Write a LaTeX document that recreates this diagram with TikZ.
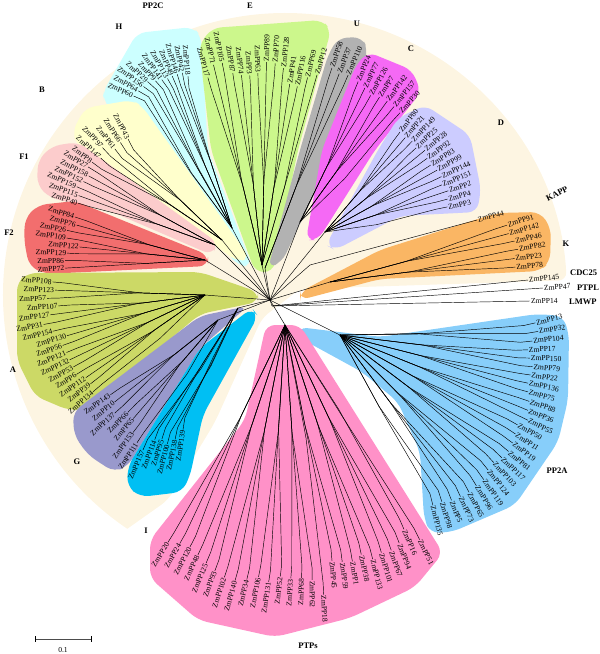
\documentclass[tikz,border=0pt]{standalone}
\usepackage{fontspec}
\setmainfont{Liberation Serif}
\usetikzlibrary{calc}
\definecolor{ppcream}{RGB}{253,245,226}
\definecolor{cladeH}{RGB}{204,255,255}
\definecolor{cladeE}{RGB}{204,247,140}
\definecolor{cladeU}{RGB}{178,178,178}
\definecolor{cladeC}{RGB}{245,105,245}
\definecolor{cladeD}{RGB}{204,204,255}
\definecolor{cladeK}{RGB}{250,182,100}
\definecolor{cladeB}{RGB}{255,255,204}
\definecolor{cladeFa}{RGB}{252,204,204}
\definecolor{cladeFb}{RGB}{242,110,110}
\definecolor{cladeA}{RGB}{204,217,102}
\definecolor{cladeG}{RGB}{153,153,204}
\definecolor{cladeI}{RGB}{0,191,243}
\definecolor{cladePTP}{RGB}{255,145,200}
\definecolor{cladePPA}{RGB}{135,206,250}

\tikzset{
  branch/.style={line width=0.45pt, black},
  leaflbl/.style={font=\fontsize{7.6}{8}\selectfont, inner sep=0.8pt},
  cladelbl/.style={font=\fontsize{8.5}{9}\selectfont\bfseries, inner sep=0pt},
  cladebg/.style={rounded corners=9pt},
}

% one leaf: start, focus (label direction), tip, name
\newcommand{\leaf}[4]{%
  \coordinate (tip) at (#3);
  \coordinate (pre) at ($(tip)!12pt!(#2)$);
  \draw[branch] (#1) -- (pre) -- (tip);
  \pgfmathanglebetweenpoints{\pgfpointanchor{#2}{center}}{\pgfpointanchor{tip}{center}}%
  \let\leafang\pgfmathresult
  \pgfmathtruncatemacro\leafflip{and(\leafang>90,\leafang<270)}%
  \ifnum\leafflip=1
    \node[leaflbl, anchor=east, rotate=\leafang-180] (n#4) at (tip) {#4};
  \else
    \node[leaflbl, anchor=west, rotate=\leafang] (n#4) at (tip) {#4};
  \fi}

% a fan of leaves in groups of three: hub, focus, first angle, step, list name/radius
\newcommand{\cladefan}[5]{%
  \foreach \n/\r [count=\i from 0] in {#5} {%
    \pgfmathsetmacro\a{#3+\i*#4}%
    \pgfmathsetmacro\ga{#3+(3*floor(\i/3)+1)*#4}%
    \coordinate (gtip) at ($(#2)+(\ga:\r)$);
    \coordinate (sub) at ($(#1)!0.42!(gtip)$);
    \draw[branch] (#1) -- (sub);
    \leaf{sub}{#2}{$(#2)+(\a:\r)$}{\n}}}

\begin{document}
\begin{tikzpicture}[x=1pt,y=-1pt]
\useasboundingbox (0,0) rectangle (600,654);

%% -- background of PP2C ----------------------------------------------
\fill[ppcream] (285,295) ++(-3:282) arc[start angle=-3, end angle=-236, radius=282]
  [rounded corners=8pt] -- (168,500) -- (215,422) -- (262,318) -- (300,289) -- cycle;

%% -- clade areas --------------------------------------------------------
\fill[cladeH, cladebg] (103,92) -- (137,33) -- (193,27) -- (201,36) -- (208,150) -- (252,266) -- (238,266) -- (160,168) -- (103,100) -- cycle;
\fill[cladeE, cladebg] (199,45) -- (212,28) -- (322,20) -- (331,30) -- (298,150) -- (273,272) -- (255,272) -- (211,150) -- cycle;
\fill[cladeU, cladebg] (328,55) -- (338,38) -- (362,37) -- (368,50) -- (340,140) -- (282,262) -- (268,268) -- (300,150) -- cycle;
\fill[cladeC, cladebg] (356,65) -- (368,52) -- (412,70) -- (421,92) -- (375,150) -- (318,240) -- (306,240) -- (322,150) -- cycle;
\fill[cladeD, cladebg] (398,118) -- (425,105) -- (470,135) -- (481,190) -- (477,212) -- (400,216) -- (335,250) -- (326,245) -- (378,150) -- cycle;
\fill[cladeK, cladebg] (300,292) -- (380,250) -- (497,213) -- (540,212) -- (551,228) -- (550,262) -- (540,271) -- (380,279) -- (300,300) -- cycle;
\fill[cladeB, cladebg] (72,132) -- (85,108) -- (132,100) -- (142,106) -- (250,258) -- (238,262) -- (78,146) -- cycle;
\fill[cladeFa, cladebg] (38,160) -- (52,146) -- (78,142) -- (218,243) -- (212,255) -- (110,211) -- (50,198) -- (37,185) -- cycle;
\fill[cladeFb, cladebg] (25,218) -- (38,205) -- (75,201) -- (208,255) -- (208,266) -- (45,274) -- (29,266) -- (24,240) -- cycle;
\fill[cladeA, cladebg] (17,282) -- (28,273) -- (200,272) -- (258,292) -- (258,302) -- (200,314) -- (86,410) -- (68,410) -- (35,396) -- (17,360) -- cycle;
\fill[cladeG, cladebg] (73,412) -- (200,316) -- (248,306) -- (200,348) -- (128,466) -- (114,472) -- (88,455) -- (74,435) -- cycle;
\fill[cladeI, cladebg] (252,308) -- (200,348) -- (128,466) -- (127,486) -- (140,497) -- (182,492) -- (190,476) -- (203,415) -- (258,316) -- cycle;
\fill[cladePPA, cladebg] (298,327) -- (380,337) -- (537,314) -- (563,316) -- (569,334) -- (568,400) -- (558,442) -- (515,505) -- (452,532) -- (430,533) -- (424,518) -- (420,452) -- (398,402) -- (362,372) -- (298,337) -- cycle;
\fill[cladePTP, cladebg] (266,325) -- (245,420) -- (150,540) -- (150,578) -- (198,620) -- (275,637) -- (350,618) -- (415,587) -- (443,553) -- (347,400) -- (300,325) -- cycle;

%% -- hubs ---------------------------------------------------------------
\coordinate (root) at (270,300);
\coordinate (hH) at (232,228);  \coordinate (fH) at (192,122);
\coordinate (hE) at (262,265);
\coordinate (hB) at (222,240);  \coordinate (fB) at (170,220);
\coordinate (hFa) at (215,245);
\coordinate (hFb) at (205,260);
\coordinate (hA) at (205,295);
\coordinate (hG) at (218,320);
\coordinate (hI) at (238,308);  \coordinate (fI) at (200,320);
\coordinate (hU) at (265,268);
\coordinate (hC) at (300,222);
\coordinate (hD) at (325,232);
\coordinate (hK) at (330,282);
\coordinate (h44) at (310,265);
\coordinate (hS) at (272,306);
\coordinate (hPPA) at (340,335); \coordinate (fPPA) at (395,355);
\coordinate (hPTP) at (285,325); \coordinate (fPTP) at (310,315);

\foreach \h in {hH,hE,hB,hFa,hFb,hA,hG,hI,hU,hC,hD,hK,h44,hS,hPPA,hPTP}
  \draw[branch] (root) -- (\h);

%% -- leaves -------------------------------------------------------------
\cladefan{hH}{fH}{-95}{-6.1}{ZmPP118/46, ZmPP42/50, ZmPP146/50, ZmPP49/50, ZmPP113/50, ZmPP141/52, ZmPP9/55, ZmPP29/60, ZmPP156/60, ZmPP64/62, ZmPP60/64}
\cladefan{hE}{hE}{-106.1}{2.48}{ZmPP117/195, ZmPP71/206, ZmPP105/206, ZmPP87/194, ZmPP74/191, ZmPP3/190, ZmPP63/192, ZmPP89/203, ZmPP70/202, ZmPP128/198, ZmPP41/183, ZmPP116/182, ZmPP69/193, ZmPP12/198}
\cladefan{hB}{fB}{-117.4}{-5.2}{ZmPP43/91, ZmPP66/92, ZmPP61/90, ZmPP97/99, ZmPP147/93, ZmPP8/97}
\cladefan{hFa}{hFa}{-148.4}{-2.92}{ZmPP27/149, ZmPP158/144, ZmPP152/146, ZmPP159/150, ZmPP115/145, ZmPP40/143}
\cladefan{hFb}{hFb}{-161.7}{-3.09}{ZmPP84/137, ZmPP76/133, ZmPP26/141, ZmPP109/140, ZmPP122/126, ZmPP129/138, ZmPP86/140, ZmPP72/140}
\cladefan{hA}{hA}{184.9}{-3.05}{ZmPP108/153, ZmPP123/150, ZmPP57/158, ZmPP107/147, ZmPP127/156, ZmPP31/164, ZmPP154/156, ZmPP130/144, ZmPP56/151, ZmPP121/150, ZmPP132/150, ZmPP53/150, ZmPP6/151, ZmPP112/145, ZmPP39/145, ZmPP134/148}
\cladefan{hG}{hG}{145.2}{-3.63}{ZmPP143/131, ZmPP10/132, ZmPP137/139, ZmPP66/129, ZmPP65/130, ZmPP153/141, ZmPP111/147}
\cladefan{hI}{fI}{113.7}{-2.98}{ZmPP157/142, ZmPP114/128, ZmPP95/125, ZmPP100/128, ZmPP138/122, ZmPP139/111}
\cladefan{hU}{hU}{-71.5}{2.4}{ZmPP58/211, ZmPP37/208, ZmPP110/210}
\cladefan{hC}{hC}{-67.5}{3.33}{ZmPP24/152, ZmPP77/149, ZmPP126/145, ZmPP7/148, ZmPP142/149, ZmPP157/149, ZmPP30/148}
\cladefan{hD}{hD}{-53.1}{3.46}{ZmPP80/125, ZmPP21/124, ZmPP149/126, ZmPP25/124, ZmPP28/129, ZmPP92/126, ZmPP83/125, ZmPP99/128, ZmPP144/129, ZmPP151/126, ZmPP2/130, ZmPP4/127, ZmPP3/125}
\cladefan{hK}{hK}{-17.8}{2.64}{ZmPP91/186, ZmPP142/185, ZmPP46/189, ZmPP82/191, ZmPP23/186, ZmPP78/186}
\leaf{h44}{h44}{477,220}{ZmPP44}
\leaf{hS}{hS}{528,280}{ZmPP145}
\leaf{hS}{hS}{543,288}{ZmPP47}
\leaf{hS}{hS}{530,301}{ZmPP14}
\cladefan{hPPA}{fPPA}{-12.9}{3.55}{ZmPP13/144, ZmPP32/145, ZmPP104/138, ZmPP17/133, ZmPP150/135, ZmPP79/138, ZmPP22/137, ZmPP136/136, ZmPP75/138, ZmPP88/142, ZmPP36/144, ZmPP55/148, ZmPP50/141, ZmPP11/144, ZmPP19/147, ZmPP81/149, ZmPP117/148, ZmPP103/146, ZmPP124/148, ZmPP119/153, ZmPP96/154, ZmPP65/156, ZmPP73/156, ZmPP5/156, ZmPP98/154, ZmPP135/155}
\cladefan{hPTP}{fPTP}{122}{-2.32}{ZmPP20/268, ZmPP24/263, ZmPP120/261, ZmPP48/265, ZmPP125/269, ZmPP93/273, ZmPP102/276, ZmPP140/276, ZmPP34/272, ZmPP106/267, ZmPP131/270, ZmPP52/263, ZmPP33/264, ZmPP68/263, ZmPP62/265, ZmPP18/280, ZmPP45/247, ZmPP59/249, ZmPP1/250, ZmPP38/245, ZmPP133/252, ZmPP101/248, ZmPP67/249, ZmPP94/245, ZmPP16/234, ZmPP51/250}

%% -- clade names --------------------------------------------------------
\node[cladelbl] (gPPC) at (153,6) {PP2C};
\node[cladelbl] (gE) at (250,6) {E};
\node[cladelbl] (gH) at (119,27) {H};
\node[cladelbl] (gB) at (42,90) {B};
\node[cladelbl] (gFa) at (24,157) {F1};
\node[cladelbl] (gFb) at (9,233) {F2};
\node[cladelbl] (gA) at (13,370) {A};
\node[cladelbl] (gG) at (77,462) {G};
\node[cladelbl] (gI) at (146,531) {I};
\node[cladelbl] (gPTP) at (308,646) {PTPs};
\node[cladelbl] (gPPA) at (557,471) {PP2A};
\node[cladelbl] (gU) at (357,24) {U};
\node[cladelbl] (gC) at (411,49) {C};
\node[cladelbl] (gD) at (501,123) {D};
\node[cladelbl, rotate=27] (gKAPP) at (557,194) {KAPP};
\node[cladelbl] (gK) at (566,244) {K};
\node[cladelbl, anchor=west] (gCDC) at (570,273) {CDC25};
\node[cladelbl, anchor=west] (gPTPL) at (577,288) {PTPL};
\node[cladelbl, anchor=west] (gLMWP) at (569,302) {LMWP};

%% -- scale bar ----------------------------------------------------------
\coordinate (sbL) at (35,639);
\coordinate (sbR) at (91,639);
\draw[line width=0.6pt, black!70] (sbL) -- (sbR);
\draw[line width=0.6pt] ($(sbL)+(0,-3)$) -- ($(sbL)+(0,3)$) ($(sbR)+(0,-3)$) -- ($(sbR)+(0,3)$);
\node[leaflbl] (sbLbl) at (63,650) {0.1};
\end{tikzpicture}
\end{document}
